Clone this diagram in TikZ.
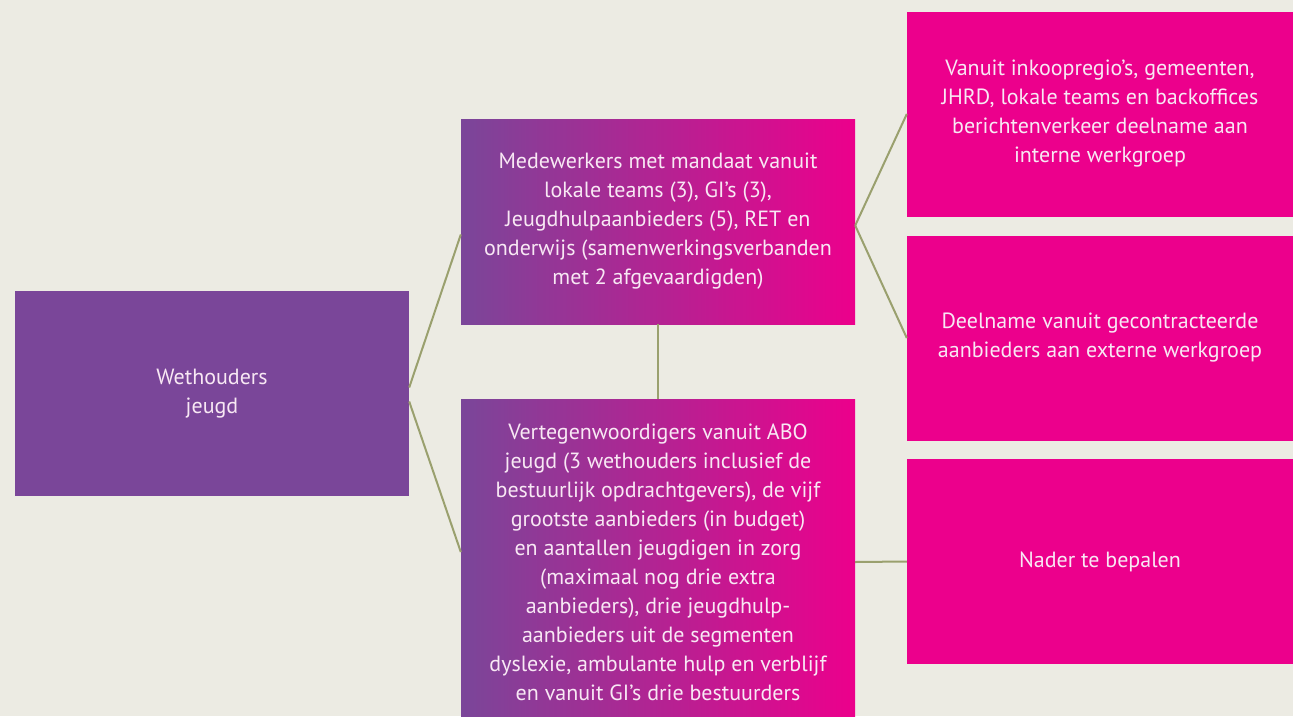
\documentclass[tikz,border=0pt]{standalone}
\usepackage{fontspec}
\setmainfont{PT Sans}
\usepackage{tikz}
\usepackage{xcolor}
\usetikzlibrary{positioning, calc}

\definecolor{paper}{RGB}{236,235,227}
\definecolor{wpurple}{RGB}{122,70,153}
\definecolor{wmagenta}{RGB}{236,0,140}
\definecolor{olive}{RGB}{154,160,110}
\definecolor{boxtext}{RGB}{248,232,244}

\tikzset{
  box/.style={rectangle, inner sep=0pt, minimum width=394pt, minimum height=205pt,
    text=boxtext, align=center, font=\fontsize{22}{29}\selectfont},
  flat/.style={box, fill=wpurple},
  fade/.style={box, left color=wpurple, right color=wmagenta, shading angle=90},
  pink/.style={box, fill=wmagenta, minimum width=386pt},
  link/.style={olive, line width=2pt}
}

\begin{document}
\begin{tikzpicture}[x=1pt, y=-1pt]
% background and frame
\fill[paper] (0,0) rectangle (1293,716);
\useasboundingbox (0,0) rectangle (1293,716);
\clip (0,0) rectangle (1293,716);

% left
\node[flat] (weth) at (212,393.5) {Wethouders\\jeugd};

% middle
\node[fade] (med) at (658,221.5) {Medewerkers met mandaat vanuit\\lokale teams (3), GI’s (3),\\Jeugdhulpaanbieders (5), RET en\\onderwijs (samenwerkingsverbanden\\met 2 afgevaardigden)};
\node[fade, minimum height=326pt] (abo) at (658,562) {Vertegenwoordigers vanuit ABO\\jeugd (3 wethouders inclusief de\\bestuurlijk opdrachtgevers), de vijf\\grootste aanbieders (in budget)\\en aantallen jeugdigen in zorg\\(maximaal nog drie extra\\aanbieders), drie jeugdhulp-\\aanbieders uit de segmenten\\dyslexie, ambulante hulp en verblijf\\en vanuit GI’s drie bestuurders};

% right
\node[pink] (intern) at (1100,114) {Vanuit inkoopregio’s, gemeenten,\\JHRD, lokale teams en backoffices\\berichtenverkeer deelname aan\\interne werkgroep};
\node[pink] (extern) at (1100,338) {Deelname vanuit gecontracteerde\\aanbieders aan externe werkgroep};
\node[pink] (nader) at (1100,561.5) {Nader te bepalen};

% connectors
\draw[link] ([yshift=6pt]weth.east) -- ([yshift=-13pt]med.west);
\draw[link] ([yshift=-8pt]weth.east) -- ([yshift=10pt]abo.west);
\draw[link] ([yshift=-4pt]med.east) -- (intern.west);
\draw[link] ([yshift=-4pt]med.east) -- (extern.west);
\draw[link] (med.south) -- (abo.north);
\draw[link] (abo.east) -- (nader.west);
\end{tikzpicture}
\end{document}
